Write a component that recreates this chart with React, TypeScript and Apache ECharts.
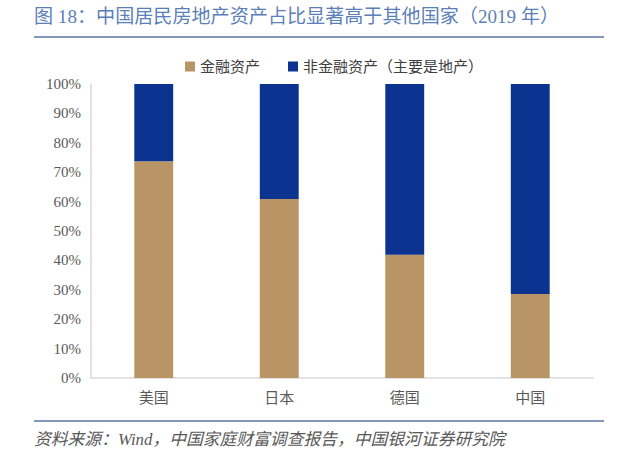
import React, { useEffect, useRef } from "react";
import * as echarts from "echarts";

const categories = ["美国", "日本", "德国", "中国"];
const financialAssets = [73.7, 60.9, 41.9, 28.6];
const nonFinancialAssets = [26.3, 39.1, 58.1, 71.4];
const seriesNames = ["金融资产", "非金融资产（主要是地产）"];
const titleText = "图 18：中国居民房地产资产占比显著高于其他国家（2019 年）";
const sourceText = "资料来源：Wind，中国家庭财富调查报告，中国银河证券研究院";

const FONT = "'Liberation Serif', 'Noto Sans CJK SC', serif";

export default function App() {
  const ref = useRef<HTMLDivElement>(null);
  useEffect(() => {
    if (!ref.current) return;
    const chart = echarts.init(ref.current, null, { renderer: "svg" });
    chart.setOption({
      animation: false,
      backgroundColor: "#ffffff",
      textStyle: { fontFamily: FONT },
      grid: { left: 91, right: 47, top: 84, bottom: 93, containLabel: false },
      legend: {
        left: 180,
        top: 54,
        itemWidth: 10,
        itemHeight: 10,
        itemGap: 28,
        icon: "rect",
        textStyle: { fontSize: 15, color: "#404040", fontFamily: FONT },
        data: seriesNames,
      },
      graphic: [
        {
          type: "text",
          left: 34,
          top: 7,
          style: { text: titleText, fontSize: 19.1, fill: "#5b7fb8", fontFamily: FONT },
        },
        {
          type: "line",
          shape: { x1: 34, y1: 37, x2: 604, y2: 37 },
          style: { stroke: "#8597bd", lineWidth: 2 },
        },
        {
          type: "line",
          shape: { x1: 34, y1: 421, x2: 604, y2: 421 },
          style: { stroke: "#8597bd", lineWidth: 2 },
        },
        {
          type: "text",
          left: 34,
          top: 431,
          style: { text: sourceText, fontSize: 16.8, fill: "#595959", fontStyle: "italic", fontFamily: FONT },
        },
      ],
      xAxis: {
        type: "category",
        data: categories,
        axisLine: { show: true, lineStyle: { color: "#d9d9d9", width: 1.5 } },
        axisTick: { show: false },
        axisLabel: { color: "#595959", fontSize: 15, margin: 12, fontFamily: FONT },
      },
      yAxis: {
        type: "value",
        min: 0,
        max: 100,
        interval: 10,
        axisLine: { show: true, lineStyle: { color: "#d9d9d9", width: 1.5 } },
        axisTick: { show: false },
        splitLine: { show: false },
        axisLabel: { color: "#595959", fontSize: 15, margin: 10, formatter: "{value}%", fontFamily: FONT },
      },
      series: [
        {
          name: seriesNames[0],
          type: "bar",
          stack: "total",
          barWidth: "31%",
          data: financialAssets,
          itemStyle: { color: "#b99566" },
        },
        {
          name: seriesNames[1],
          type: "bar",
          stack: "total",
          barWidth: "31%",
          data: nonFinancialAssets,
          itemStyle: { color: "#0b338f" },
        },
      ],
    });
    return () => chart.dispose();
  }, []);
  return <div ref={ref} style={{ width: 640, height: 471, position: "absolute", left: 0, top: 0 }} />;
}
